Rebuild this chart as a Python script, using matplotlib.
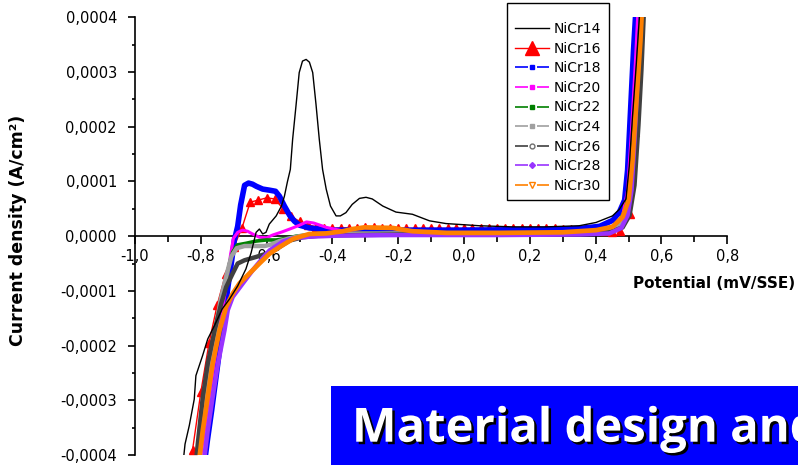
import matplotlib
matplotlib.use("Agg")
import matplotlib.pyplot as plt
from matplotlib.lines import Line2D
from matplotlib.patches import Rectangle
from matplotlib.ticker import MultipleLocator, FuncFormatter
import matplotlib.patheffects as pe

plt.rcParams['font.family'] = ['DejaVu Sans']

SCALE = 1e-4  # values below are in units of 1e-4 A/cm2

labels = ["NiCr14", "NiCr16", "NiCr18", "NiCr20", "NiCr22",
          "NiCr24", "NiCr26", "NiCr28", "NiCr30"]

v14 = [-0.856, -0.848, -0.835, -0.820, -0.815, -0.795, -0.779, -0.759, -0.735, -0.713,
       -0.688, -0.663, -0.647, -0.632, -0.622, -0.612, -0.602, -0.592, -0.571, -0.555,
       -0.546, -0.537, -0.528, -0.521, -0.511, -0.501, -0.491, -0.480, -0.470, -0.460,
       -0.450, -0.440, -0.430, -0.419, -0.406, -0.389, -0.376, -0.359, -0.340, -0.318,
       -0.298, -0.279, -0.247, -0.207, -0.157, -0.105, -0.055, 0.047, 0.147, 0.249,
       0.350, 0.401, 0.451, 0.472, 0.492, 0.502, 0.512, 0.523, 0.533, 0.540]
j14 = [-4.26, -3.80, -3.46, -2.98, -2.55, -2.19, -1.88, -1.64, -1.33, -1.15,
       -0.91, -0.60, -0.30, 0.07, 0.13, 0.04, 0.07, 0.22, 0.37, 0.55,
       0.73, 0.99, 1.22, 1.77, 2.37, 2.99, 3.20, 3.23, 3.18, 2.99,
       2.41, 1.77, 1.22, 0.86, 0.55, 0.37, 0.37, 0.43, 0.58, 0.69,
       0.71, 0.68, 0.55, 0.44, 0.40, 0.28, 0.23, 0.19, 0.17, 0.17,
       0.19, 0.25, 0.37, 0.49, 0.68, 1.28, 2.20, 3.11, 4.02, 4.60]

v16 = [-0.845, -0.825, -0.800, -0.775, -0.750, -0.725, -0.700, -0.675, -0.650, -0.625,
       -0.600, -0.575, -0.550, -0.525, -0.500, -0.475, -0.450, -0.425, -0.400, -0.375,
       -0.350, -0.325, -0.300, -0.275, -0.250, -0.225, -0.200, -0.175, -0.150, -0.125,
       -0.100, -0.075, -0.050, -0.025, 0.000, 0.025, 0.050, 0.075, 0.100, 0.125,
       0.150, 0.175, 0.200, 0.225, 0.250, 0.275, 0.300, 0.325, 0.350, 0.375,
       0.400, 0.425, 0.450, 0.475, 0.505, 0.520, 0.540]
j16 = [-4.40, -3.90, -2.85, -1.95, -1.25, -0.70, -0.20, 0.15, 0.62, 0.66,
       0.70, 0.68, 0.50, 0.36, 0.27, 0.21, 0.17, 0.15, 0.14, 0.15,
       0.15, 0.15, 0.16, 0.16, 0.15, 0.15, 0.15, 0.14, 0.14, 0.14,
       0.14, 0.14, 0.14, 0.14, 0.14, 0.14, 0.14, 0.14, 0.14, 0.14,
       0.14, 0.14, 0.14, 0.14, 0.14, 0.14, 0.13, 0.13, 0.13, 0.13,
       0.12, 0.10, 0.07, 0.10, 0.40, 1.90, 4.60]

v18 = [-0.789, -0.780, -0.767, -0.755, -0.743, -0.731, -0.719, -0.707, -0.698, -0.688,
       -0.679, -0.667, -0.655, -0.643, -0.631, -0.612, -0.591, -0.573, -0.561, -0.546,
       -0.530, -0.515, -0.500, -0.470, -0.409, -0.196, -0.014, 0.229, 0.351, 0.412,
       0.452, 0.472, 0.488, 0.497, 0.506, 0.515, 0.524]
j18 = [-4.15, -3.73, -3.18, -2.63, -2.08, -1.54, -0.99, -0.48, -0.07, 0.18,
       0.57, 0.93, 0.97, 0.95, 0.91, 0.86, 0.84, 0.82, 0.73, 0.55,
       0.38, 0.27, 0.20, 0.15, 0.11, 0.11, 0.11, 0.12, 0.14, 0.18,
       0.29, 0.44, 0.66, 1.21, 2.30, 3.40, 4.31]

v20 = [-0.804, -0.789, -0.774, -0.758, -0.743, -0.725, -0.710, -0.701, -0.688, -0.673,
       -0.658, -0.643, -0.622, -0.600, -0.582, -0.552, -0.521, -0.500, -0.479, -0.457,
       -0.418, -0.379, -0.348, -0.257, -0.014, 0.290, 0.412, 0.457, 0.482, 0.497,
       0.509, 0.521, 0.530]
j20 = [-4.19, -3.55, -2.91, -2.27, -1.63, -0.99, -0.35, -0.04, 0.07, 0.11,
       0.09, 0.04, -0.02, -0.03, 0.02, 0.08, 0.15, 0.20, 0.26, 0.24,
       0.16, 0.11, 0.06, 0.05, 0.05, 0.06, 0.09, 0.18, 0.38, 0.84,
       1.94, 3.22, 4.31]

v22 = [-0.813, -0.810, -0.799, -0.784, -0.768, -0.753, -0.738, -0.723, -0.713, -0.703,
       -0.689, -0.662, -0.632, -0.601, -0.571, -0.540, -0.510, -0.480, -0.409, -0.196,
       0.108, 0.351, 0.427, 0.466, 0.491, 0.506, 0.518, 0.527, 0.539]
j22 = [-4.19, -3.97, -3.42, -2.82, -2.21, -1.60, -1.11, -0.80, -0.50, -0.29,
       -0.16, -0.13, -0.09, -0.07, -0.07, -0.04, 0.00, 0.02, 0.05, 0.05,
       0.05, 0.06, 0.11, 0.22, 0.48, 1.02, 2.12, 3.03, 4.31]

v24 = [-0.810, -0.801, -0.786, -0.771, -0.755, -0.740, -0.722, -0.707, -0.691, -0.667,
       -0.637, -0.606, -0.585, -0.561, -0.530, -0.500, -0.440, -0.196, 0.108, 0.351,
       0.433, 0.472, 0.497, 0.512, 0.524, 0.533, 0.542]
j24 = [-4.19, -3.64, -3.00, -2.36, -1.72, -1.17, -0.71, -0.37, -0.22, -0.18,
       -0.18, -0.18, -0.15, -0.09, -0.04, 0.00, 0.04, 0.05, 0.05, 0.05,
       0.09, 0.18, 0.44, 1.02, 2.12, 3.03, 4.31]

v26 = [-0.816, -0.809, -0.794, -0.779, -0.758, -0.738, -0.723, -0.703, -0.688, -0.667,
       -0.632, -0.601, -0.571, -0.551, -0.530, -0.490, -0.439, -0.196, 0.108, 0.351,
       0.442, 0.482, 0.503, 0.518, 0.530, 0.539, 0.548]
j26 = [-4.19, -3.78, -2.94, -2.33, -1.72, -1.23, -0.93, -0.68, -0.50, -0.44,
       -0.38, -0.32, -0.24, -0.16, -0.08, -0.02, 0.01, 0.03, 0.03, 0.04,
       0.07, 0.16, 0.38, 0.93, 2.03, 3.03, 4.31]

v28 = [-0.792, -0.779, -0.764, -0.748, -0.728, -0.718, -0.703, -0.672, -0.642, -0.612,
       -0.591, -0.551, -0.520, -0.470, -0.379, -0.196, 0.108, 0.351, 0.442, 0.478,
       0.497, 0.509, 0.518, 0.527, 0.536, 0.539]
j28 = [-4.19, -3.55, -2.94, -2.33, -1.72, -1.35, -1.11, -0.86, -0.62, -0.40,
       -0.26, -0.10, -0.04, -0.01, 0.01, 0.02, 0.02, 0.03, 0.05, 0.15,
       0.38, 0.84, 1.76, 2.85, 3.95, 4.31]

v30 = [-0.807, -0.794, -0.779, -0.764, -0.743, -0.723, -0.703, -0.682, -0.652, -0.622,
       -0.591, -0.561, -0.520, -0.470, -0.419, -0.368, -0.339, -0.303, -0.217, -0.157,
       -0.053, 0.108, 0.299, 0.402, 0.451, 0.482, 0.500, 0.512, 0.524, 0.536, 0.542]
j30 = [-4.19, -3.55, -2.94, -2.33, -1.72, -1.29, -1.05, -0.86, -0.68, -0.50,
       -0.32, -0.20, -0.05, 0.04, 0.05, 0.09, 0.13, 0.16, 0.15, 0.09,
       0.06, 0.06, 0.07, 0.11, 0.17, 0.35, 0.66, 1.39, 2.49, 3.58, 4.31]

x_ticks = [-1.0, -0.8, -0.6, -0.4, -0.2, 0.0, 0.2, 0.4, 0.6, 0.8]
y_ticks = [-0.0004, -0.0003, -0.0002, -0.0001, 0.0, 0.0001, 0.0002, 0.0003, 0.0004]

colors = ["#000000", "#ff0000", "#0000ff", "#ff00ff", "#008000",
          "#a0a0a0", "#404040", "#9933ff", "#ff8000"]

fig = plt.figure(figsize=(7.98, 4.65), dpi=100)
ax = fig.add_axes([0.1692, 0.0215, 0.7422, 0.9413])

def sc(vals):
    return [v * SCALE for v in vals]

series = [(v18, j18, colors[2], 4.0), (v20, j20, colors[3], 2.2), (v22, j22, colors[4], 2.6),
          (v24, j24, colors[5], 3.2), (v26, j26, colors[6], 3.2), (v28, j28, colors[7], 3.2),
          (v30, j30, colors[8], 3.4)]

ax.plot(v16, sc(j16), color=colors[1], lw=1.0, marker='^', ms=6, mec=colors[1],
        mfc=colors[1], zorder=3)
for i, (vx, jy, c, lw) in enumerate(series):
    ax.plot(vx, sc(jy), color=c, lw=lw, solid_capstyle='round', solid_joinstyle='round',
            zorder=4 + i)
ax.plot(v14, sc(j14), color=colors[0], lw=1.0, zorder=20)

ax.set_xlim(-1.0, 0.8)
ax.set_ylim(-0.0004, 0.0004)
ax.spines['top'].set_visible(False)
ax.spines['right'].set_visible(False)
ax.spines['bottom'].set_position(('data', 0))
for s in ('left', 'bottom'):
    ax.spines[s].set_linewidth(1.2)

ax.set_xticks(x_ticks)
ax.set_yticks(y_ticks)
ax.xaxis.set_minor_locator(MultipleLocator(0.1))
ax.yaxis.set_minor_locator(MultipleLocator(0.00005))
ax.xaxis.set_major_formatter(FuncFormatter(lambda v, p: "0,0" if abs(v) < 1e-9 else ("%.1f" % v).replace('.', ',')))
ax.yaxis.set_major_formatter(FuncFormatter(lambda v, p: "0,0000" if abs(v) < 1e-12 else ("%.4f" % v).replace('.', ',')))
ax.tick_params(axis='x', which='major', length=6, width=1.2, labelsize=10.5, pad=3, direction='out')
ax.tick_params(axis='x', which='minor', length=4, width=1.2, direction='out')
ax.tick_params(axis='y', which='major', length=5, width=1.2, labelsize=10.5, pad=8, direction='out')
ax.tick_params(axis='y', which='minor', length=2.5, width=1.2, direction='out')

fig.text(795 / 798, 1 - 283 / 465, "Potential (mV/SSE)", ha='right', va='center',
         fontsize=11, fontweight='bold')
fig.text(18 / 798, 1 - 230 / 465, "Current density (A/cm\u00b2)", ha='center', va='center',
         rotation=90, fontsize=12.5, fontweight='bold')

dash = (0, (7.8, 5.4))
handles = [
    Line2D([], [], color=colors[0], lw=1.0),
    Line2D([], [], color=colors[1], lw=1.0, marker='^', ms=10),
    Line2D([], [], color=colors[2], lw=1.2, ls=dash, marker='s', ms=3.5),
    Line2D([], [], color=colors[3], lw=1.2, ls=dash, marker='s', ms=3),
    Line2D([], [], color=colors[4], lw=1.2, ls=dash, marker='s', ms=3.5),
    Line2D([], [], color=colors[5], lw=1.2, ls=dash, marker='s', ms=3),
    Line2D([], [], color=colors[6], lw=1.2, ls=dash, marker='o', ms=3.5,
           mfc='white', mec='#707070'),
    Line2D([], [], color=colors[7], lw=1.2, ls=dash, marker='D', ms=3),
    Line2D([], [], color=colors[8], lw=1.2, ls=dash, marker='v', ms=4,
           mfc='none', mec=colors[8]),
]
leg = ax.legend(handles, labels, loc='upper left', bbox_to_anchor=(507 / 798, 1 - 3 / 465),
                bbox_transform=fig.transFigure, fontsize=10, frameon=True, fancybox=False,
                handlelength=2.5, handletextpad=0.3, labelspacing=0.4, borderpad=0.55,
                borderaxespad=0, title=' ', title_fontsize=5)
leg.get_frame().set_edgecolor('black')
leg.get_frame().set_linewidth(1.0)
leg.get_frame().set_alpha(1)
leg.set_zorder(30)

fig.add_artist(Rectangle((331 / 798, 0), (798 - 331) / 798, (465 - 386) / 465,
                         transform=fig.transFigure, facecolor='#0000ff', edgecolor='none',
                         zorder=40))
fig.text(352 / 798, 1 - 441.7 / 465, "Material design and", ha='left', va='baseline',
         fontsize=34, fontweight='bold', family=['Open Sans', 'DejaVu Sans'], color='white',
         zorder=41,
         path_effects=[pe.withSimplePatchShadow(offset=(1.8, -1.8), shadow_rgbFace='black',
                                                alpha=1.0)])

fig.savefig("out.png", dpi=100)
